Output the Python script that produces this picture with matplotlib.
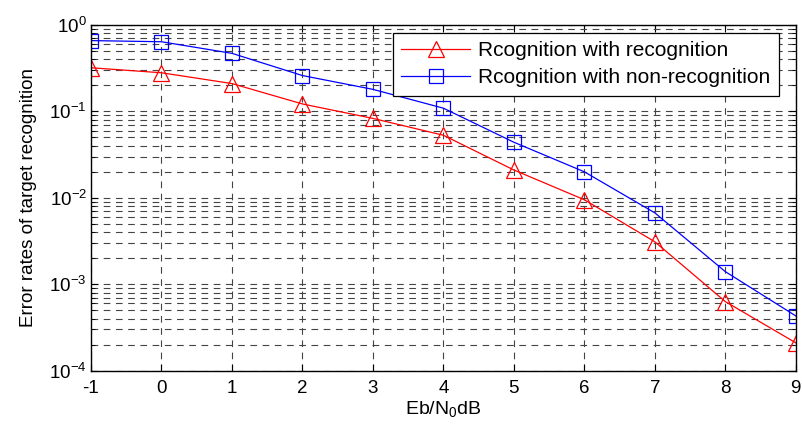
import matplotlib
matplotlib.use("Agg")
import matplotlib.pyplot as plt
from matplotlib.ticker import LogLocator, NullFormatter

plt.rcParams['font.family'] = ['Liberation Sans', 'DejaVu Sans']
plt.rcParams['mathtext.fontset'] = 'custom'
plt.rcParams['mathtext.rm'] = 'Liberation Sans'
plt.rcParams['axes.unicode_minus'] = False

snr = [-1, 0, 1, 2, 3, 4, 5, 6, 7, 8, 9]
err_recog = [0.32, 0.28, 0.21, 0.122, 0.083, 0.053, 0.021, 0.0095, 0.0031, 0.00063, 0.00021]
err_nonrecog = [0.66, 0.64, 0.47, 0.26, 0.18, 0.109, 0.044, 0.020, 0.0067, 0.0014, 0.00043]
labels = ['Rcognition with recognition', 'Rcognition with non-recognition']

fig = plt.figure(figsize=(8.03, 4.28), dpi=100)
ax = fig.add_axes([0.1133, 0.134, 0.8777, 0.8076])

ax.semilogy(snr, err_recog, color='red', lw=0.9, marker='^', ms=11,
            mfc='none', mec='red', mew=0.9, label=labels[0])
ax.semilogy(snr, err_nonrecog, color='blue', lw=0.9, marker='s', ms=10,
            mfc='none', mec='blue', mew=0.9, label=labels[1])

ax.set_xlim(-1, 9)
ax.set_ylim(1e-4, 1)
ax.set_xticks(snr)
ax.yaxis.set_major_locator(LogLocator(base=10, numticks=10))
ax.yaxis.set_minor_locator(LogLocator(base=10, subs=range(2, 10), numticks=10))
ax.yaxis.set_minor_formatter(NullFormatter())

ax.grid(True, which='major', axis='both', color='#444444', ls=(0, (6, 5)), lw=0.8)
ax.grid(True, which='minor', axis='y', color='#444444', ls=(0, (6, 5)), lw=0.8)
ax.tick_params(which='both', direction='in', top=True, right=True, labelsize=13.5)
ax.tick_params(which='major', length=5)
ax.tick_params(which='minor', length=3)
ax.tick_params(axis='x', pad=7)
ax.tick_params(axis='y', pad=3)
for s in ax.spines.values():
    s.set_linewidth(1.0)

ax.set_xlabel('Eb/N$_0$dB', fontsize=14, labelpad=2)
ax.set_ylabel('Error rates of target recognition', fontsize=13.5, labelpad=9)

leg = ax.legend(loc='upper right', bbox_to_anchor=(0.976, 0.978), borderaxespad=0,
                fontsize=15, fancybox=False, framealpha=1, edgecolor='black',
                handlelength=3.3, handletextpad=0.4, labelspacing=0.4,
                borderpad=0.4)
leg.get_frame().set_linewidth(0.9)

fig.savefig('out.png', dpi=100)
